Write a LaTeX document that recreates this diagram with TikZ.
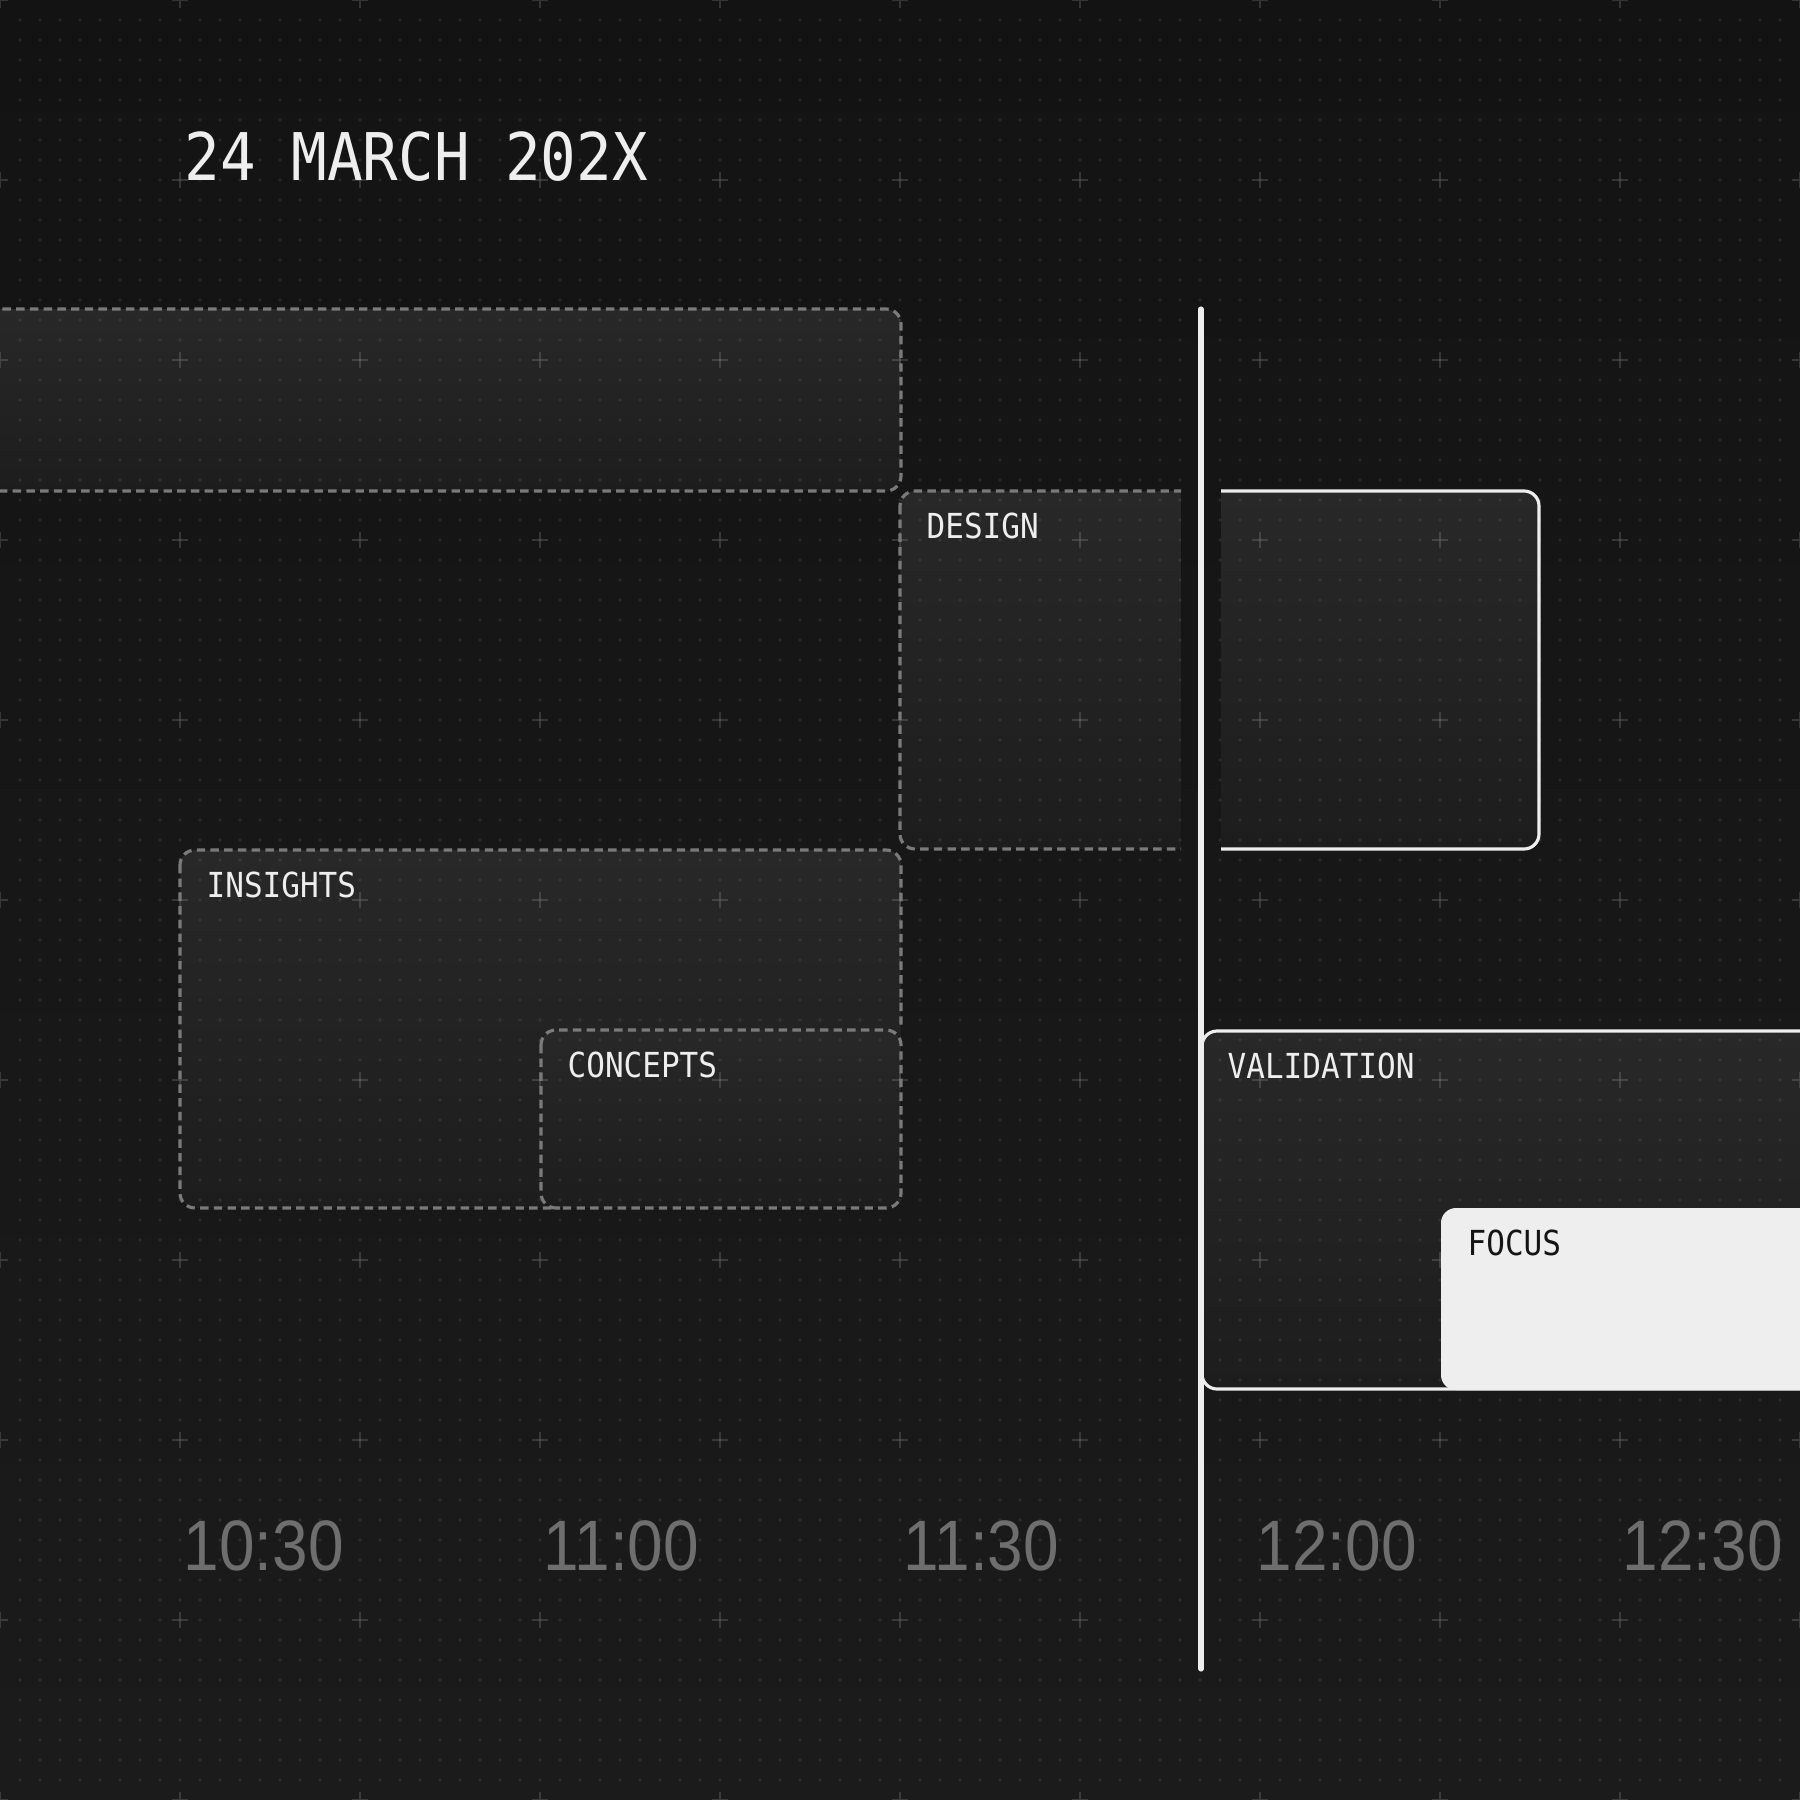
\documentclass[tikz,border=0pt]{standalone}
\usepackage{fontspec}
\newfontfamily\monof[FakeStretch=0.9]{DejaVu Sans Mono}
\newfontfamily\timef[FakeStretch=0.895]{Liberation Sans}
\definecolor{bgtop}{HTML}{131313}
\definecolor{bgbot}{HTML}{1B1B1B}
\definecolor{boxtop}{HTML}{282828}
\definecolor{boxbot}{HTML}{1D1D1D}
\definecolor{dashgray}{HTML}{7A7A7A}
\definecolor{lightfg}{HTML}{EEEEEE}
\definecolor{focusfill}{HTML}{EEEEEE}
\definecolor{timegray}{HTML}{6E6E6E}
\definecolor{darktext}{HTML}{141414}
\tikzset{
  boxfill/.style={top color=boxtop, bottom color=boxbot, shading angle=0},
  dashbox/.style={draw=dashgray, line width=0.9pt, dash pattern=on 2.4pt off 1.5pt, rounded corners=0.15cm},
  solidbox/.style={draw=lightfg, line width=0.9pt, rounded corners=0.15cm},
  lbl/.style={anchor=base west, inner sep=0pt, text=lightfg, font=\monof\fontsize{9.8}{12}\selectfont},
  titlelbl/.style={anchor=base west, inner sep=0pt, text=lightfg, font=\monof\fontsize{18.7}{22}\selectfont},
  timelbl/.style={anchor=base west, inner sep=0pt, text=timegray, font=\timef\fontsize{20.3}{24}\selectfont},
}
\begin{document}
\begin{tikzpicture}[x=0.01cm, y=-0.01cm]
\useasboundingbox (0,0) rectangle (1800,1800);
\clip (0,0) rectangle (1800,1800);
% background
\shade[top color=bgtop, bottom color=bgbot] (0,0) rectangle (1800,1800);

% top box (partially off canvas)
\fill[boxfill, rounded corners=0.15cm] (-60,309) rectangle (901,491);
% design box, past part
\begin{scope}
  \clip (850,450) rectangle (1181,900);
  \fill[boxfill, rounded corners=0.15cm] (900,491) rectangle (1400,849);
\end{scope}
% design box, future part
\begin{scope}
  \clip (1221,450) rectangle (1600,900);
  \fill[boxfill, rounded corners=0.15cm] (1000,491) rectangle (1539,849);
\end{scope}
% insights and concepts
\fill[boxfill, rounded corners=0.15cm] (180,850) rectangle (901,1208);
\fill[boxfill, rounded corners=0.15cm] (541,1030) rectangle (901,1208);
% validation
\fill[boxfill, rounded corners=0.15cm] (1202,1031) rectangle (1900,1389);

% dot grid
\foreach \j in {1,...,89} {
  \fill[white, fill opacity=0.09]
    \foreach \i in {1,...,89} { (\i*20-1.3,\j*20-1.3) rectangle ++(2.6,2.6) };
}
% crosses
\foreach \j in {0,...,10} {
  \draw[white, opacity=0.14, line width=0.45pt]
    \foreach \i in {0,...,10} {
      (\i*180-8,\j*180) -- (\i*180+8,\j*180) (\i*180,\j*180-8) -- (\i*180,\j*180+8) };
}

% borders
\draw[dashbox] (-60,309) rectangle (901,491);
\begin{scope}
  \clip (850,450) rectangle (1181,900);
  \draw[dashbox] (900,491) rectangle (1400,849);
\end{scope}
\begin{scope}
  \clip (1221,450) rectangle (1600,900);
  \draw[solidbox] (1000,491) rectangle (1539,849);
\end{scope}
\begin{scope}
  \clip (100,800) -- (950,800) -- (950,1026) -- (560,1026) -- (560,1260) -- (100,1260) -- cycle;
  \draw[dashbox] (180,850) rectangle (901,1208);
\end{scope}
\draw[dashbox] (541,1030) rectangle (901,1208);
\draw[solidbox] (1202,1031) rectangle (1900,1389);
% focus
\fill[focusfill, rounded corners=0.15cm] (1441,1208) rectangle (1900,1390);

% now line
\coordinate (nowtop) at (1201,309);
\coordinate (nowbot) at (1201,1669);
\draw[lightfg, line width=1.45pt, line cap=round] (nowtop) -- (nowbot);

% texts
\node[titlelbl] (title) at (184,180) {24 MARCH 202X};
\node[lbl] (design) at (926,538) {DESIGN};
\node[lbl] (insights) at (206,897) {INSIGHTS};
\node[lbl] (concepts) at (567,1077) {CONCEPTS};
\node[lbl] (validation) at (1227,1078) {VALIDATION};
\node[lbl, text=darktext] (focus) at (1467,1255) {FOCUS};

\node[timelbl] (t1030) at (183,1570) {10:30};
\node[timelbl] (t1100) at (543,1570) {11:00};
\node[timelbl] (t1130) at (903,1570) {11:30};
\node[timelbl] (t1200) at (1256,1570) {12:00};
\node[timelbl] (t1230) at (1622,1570) {12:30};
\end{tikzpicture}
\end{document}
